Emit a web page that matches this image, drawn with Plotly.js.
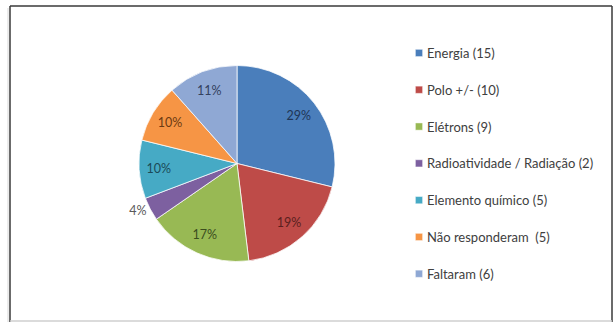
<!DOCTYPE html>
<html>
<head>
<meta charset="utf-8">
<script src="https://cdn.plot.ly/plotly-3.0.1.min.js"></script>
<style>html,body{margin:0;padding:0;background:#fff;}#chart{width:615px;height:323px;}</style>
</head>
<body>
<div id="chart"></div>
<script>
const categories = ["Energia (15)", "Polo +/- (10)", "Elétrons (9)", "Radioatividade / Radiação (2)", "Elemento químico (5)", "Não responderam  (5)", "Faltaram (6)"];
const counts = [15, 10, 9, 2, 5, 5, 6];
const percentLabels = ["29%", "19%", "17%", "4%", "10%", "10%", "11%"];
const sliceColors = ["#4A7EBB", "#BE4B48", "#98B954", "#7D60A0", "#46AAC5", "#F69545", "#8FA8D4"];
const labelColors = ["#1F3556", "#5A1F1E", "#3B4D1E", "#595959", "#1B4A58", "#6B3A12", "#33415E"];
const labelPositions = ["inside", "inside", "inside", "outside", "inside", "inside", "inside"];

const W = 615, H = 323;
const px = v => v / W, py = v => 1 - v / H;
const FONT = "Lato, 'Liberation Sans', sans-serif";
const pieDomain = { x: [px(139), px(335)], y: [1 - 261.5 / H, 1 - 65.5 / H] };

// the pie itself
const pieTrace = {
  type: "pie",
  labels: categories.map(c => c + "<br> "),
  values: counts,
  textinfo: "none",
  sort: false,
  direction: "clockwise",
  rotation: 0,
  marker: { colors: sliceColors, line: { color: "rgba(255,255,255,0.75)", width: 1 } },
  domain: pieDomain,
  hoverinfo: "none"
};

// transparent ring carrying the percentage labels, so they sit towards the rim like the original
const labelTrace = {
  type: "pie",
  labels: categories.map(c => c + "<br> "),
  values: counts,
  hole: 0.6,
  text: percentLabels,
  texttemplate: "%{text}",
  textposition: labelPositions,
  insidetextorientation: "horizontal",
  sort: false,
  direction: "clockwise",
  rotation: 0,
  marker: { colors: counts.map(() => "rgba(0,0,0,0)"), line: { width: 0 } },
  textfont: { family: FONT, size: 12.5, color: labelColors },
  domain: pieDomain,
  showlegend: false,
  hoverinfo: "none"
};

const layout = {
  width: W, height: H,
  margin: { l: 0, r: 0, t: 0, b: 0 },
  paper_bgcolor: "#ffffff",
  showlegend: true,
  legend: {
    x: px(387), y: py(38), xanchor: "left", yanchor: "top",
    valign: "top",
    font: { family: FONT, size: 13, color: "#404040" },
    bgcolor: "rgba(0,0,0,0)", borderwidth: 0
  },
  shapes: [
    { type: "line", xref: "paper", yref: "paper", x0: px(10), x1: px(10), y0: py(6), y1: py(322), line: { color: "#3a3a3a", width: 1.5 } },
    { type: "line", xref: "paper", yref: "paper", x0: px(10), x1: px(612), y0: py(6), y1: py(6), line: { color: "#3a3a3a", width: 1.5 } },
    { type: "line", xref: "paper", yref: "paper", x0: px(612), x1: px(612), y0: py(6), y1: py(322), line: { color: "#3a3a3a", width: 1.5 } },
    { type: "line", xref: "paper", yref: "paper", x0: px(10), x1: px(612), y0: py(321), y1: py(321), line: { color: "#cfcfcf", width: 1.5 } },
    { type: "line", xref: "paper", yref: "paper", x0: px(8), x1: px(8), y0: py(8), y1: py(322), line: { color: "#d8d8d8", width: 1 } }
  ]
};

Plotly.newPlot("chart", [pieTrace, labelTrace], layout, { staticPlot: true, displayModeBar: false }).then(gd => {
  // smaller legend swatches sitting close to their text, as in the original
  gd.querySelectorAll("path.legendpie").forEach(p => {
    const t = p.getAttribute("transform") || "";
    p.setAttribute("transform", t + " translate(12,0) scale(0.6)");
  });
});
</script>
</body>
</html>
